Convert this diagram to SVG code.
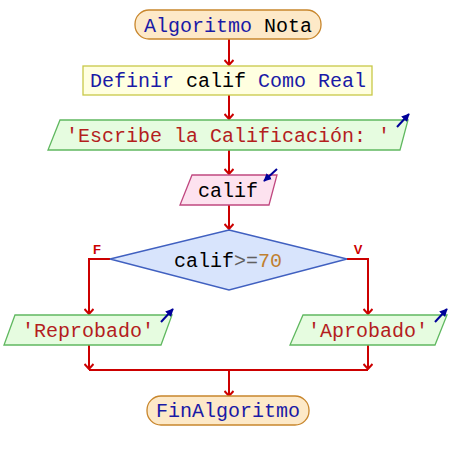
<svg xmlns="http://www.w3.org/2000/svg" width="450" height="460" viewBox="0 0 450 460">
<defs>
<marker id="ar" viewBox="0 0 10 10" refX="9" refY="5" markerWidth="10" markerHeight="10" orient="auto" markerUnits="userSpaceOnUse">
<path d="M4,0.5 L9,5 L4,9.5" fill="none" stroke="#cc0000" stroke-width="2"/>
</marker>
<marker id="ba" viewBox="0 0 10 10" refX="9" refY="5" markerWidth="8" markerHeight="8" orient="auto" markerUnits="userSpaceOnUse">
<path d="M0,0 L10,5 L0,10 Z" fill="#000099"/>
</marker>
<style>
text{font-family:"Liberation Mono","Courier New",monospace;font-size:20px;}
.kw{fill:#1a1aa6}
.id{fill:#000000}
.st{fill:#b41e1e}
.op{fill:#606060}
.nm{fill:#c08030}
.term{fill:#fde9c8;stroke:#c8862c;stroke-width:1.3}
.proc{fill:#ffffe0;stroke:#c8c848;stroke-width:1.3}
.out{fill:#e6fce0;stroke:#60b860;stroke-width:1.3}
.inp{fill:#fde2ef;stroke:#c04880;stroke-width:1.3}
.dec{fill:#d8e4fc;stroke:#4060c0;stroke-width:1.3}
.c{fill:none;stroke:#cc0000;stroke-width:2}
.ba{fill:none;stroke:#000099;stroke-width:2}
.lb{font-family:"Liberation Sans",Arial,sans-serif;font-size:13px;font-weight:bold;fill:#cc0000}
</style>
</defs>
<g id="connectors">
<path class="c" d="M229,39 V65" marker-end="url(#ar)"/>
<path class="c" d="M229,95 V119" marker-end="url(#ar)"/>
<path class="c" d="M229,150 V174" marker-end="url(#ar)"/>
<path class="c" d="M229,205 V229" marker-end="url(#ar)"/>
<path class="c" d="M110,259 H89 V314" marker-end="url(#ar)"/>
<path class="c" d="M347,259 H368 V314" marker-end="url(#ar)"/>
<path class="c" d="M89,345 V369" marker-end="url(#ar)"/>
<path class="c" d="M368,345 V369" marker-end="url(#ar)"/>
<path class="c" d="M89,370 H368"/>
<path class="c" d="M229,370 V396" marker-end="url(#ar)"/>
<text class="lb" x="97" y="254" text-anchor="middle">F</text>
<text class="lb" x="358" y="254" text-anchor="middle">V</text>
</g>
<g id="start">
<rect class="term" x="135" y="10" width="186" height="29" rx="14" ry="14"/>
<text x="228" y="32" text-anchor="middle"><tspan class="kw">Algoritmo</tspan><tspan class="id"> Nota</tspan></text>
</g>
<g id="definir">
<rect class="proc" x="83" y="66" width="289" height="29"/>
<text x="228" y="87" text-anchor="middle"><tspan class="kw">Definir</tspan><tspan class="id"> calif </tspan><tspan class="kw">Como Real</tspan></text>
</g>
<g id="escribe">
<polygon class="out" points="60,120 408,120 400,150 48,150"/>
<text class="st" x="228" y="142" text-anchor="middle">'Escribe la Calificación: '</text>
<path class="ba" d="M397,127 L409,114" marker-end="url(#ba)"/>
</g>
<g id="leer">
<polygon class="inp" points="192,175 277,175 269,205 180,205"/>
<text class="id" x="228" y="197" text-anchor="middle">calif</text>
<path class="ba" d="M277,169 L264,181" marker-end="url(#ba)"/>
</g>
<g id="decision">
<polygon class="dec" points="229,230 347,259 229,290 110,259"/>
<text x="228" y="267" text-anchor="middle"><tspan class="id">calif</tspan><tspan class="op">&gt;=</tspan><tspan class="nm">70</tspan></text>
</g>
<g id="reprobado">
<polygon class="out" points="15,315 172,315 161,345 4,345"/>
<text class="st" x="88" y="337" text-anchor="middle">'Reprobado'</text>
<path class="ba" d="M161,322 L173,309" marker-end="url(#ba)"/>
</g>
<g id="aprobado">
<polygon class="out" points="303,315 447,315 435,345 290,345"/>
<text class="st" x="368" y="337" text-anchor="middle">'Aprobado'</text>
<path class="ba" d="M435,322 L447,309" marker-end="url(#ba)"/>
</g>
<g id="end">
<rect class="term" x="147" y="396" width="162" height="29" rx="14" ry="14"/>
<text class="kw" x="228" y="417" text-anchor="middle">FinAlgoritmo</text>
</g>
</svg>
